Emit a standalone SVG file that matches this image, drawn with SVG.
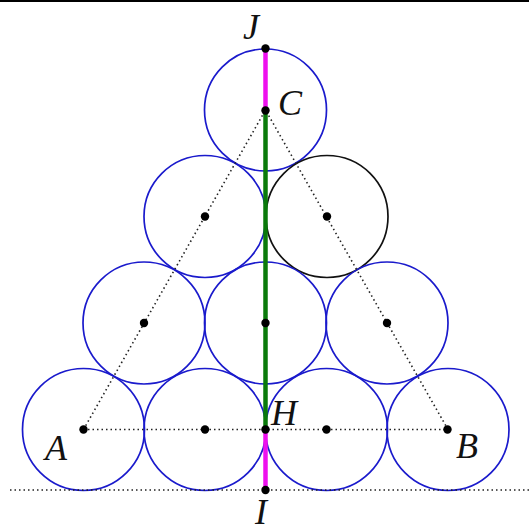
<svg xmlns="http://www.w3.org/2000/svg" width="529" height="532" viewBox="0 0 529 532">
<style>
.c{fill:none;stroke:#1a1acc;stroke-width:1.7}
.k{fill:none;stroke:#111;stroke-width:1.7}
.d{fill:none;stroke:#222;stroke-width:1.6;stroke-dasharray:1.5 3}
.p{fill:#000}
.t{font-family:"Liberation Serif","DejaVu Serif",serif;font-style:italic;font-size:36px;fill:#111}
</style>
<rect width="529" height="532" fill="#fff"/>
<line x1="0" y1="1" x2="529" y2="1" stroke="#000" stroke-width="2"/>
<g id="circles">
<circle class="c" cx="265.5" cy="110" r="61"/>
<circle class="c" cx="205" cy="216.5" r="61"/>
<circle class="k" cx="327" cy="216.5" r="61"/>
<circle class="c" cx="144" cy="323" r="61"/>
<circle class="c" cx="265.5" cy="323" r="61"/>
<circle class="c" cx="387" cy="323" r="61"/>
<circle class="c" cx="83.5" cy="429.5" r="61"/>
<circle class="c" cx="205" cy="429.5" r="61"/>
<circle class="c" cx="326.5" cy="429.5" r="61"/>
<circle class="c" cx="448" cy="429.5" r="61"/>
</g>
<g id="connectors">
<line class="d" x1="10" y1="490" x2="529" y2="490"/>
<line class="d" x1="83.5" y1="429.5" x2="448" y2="429.5"/>
<line class="d" x1="83.5" y1="429.5" x2="265.5" y2="110"/>
<line class="d" x1="448" y1="429.5" x2="265.5" y2="110"/>
<line x1="265.5" y1="48.5" x2="265.5" y2="110" stroke="#ee10ee" stroke-width="4.5"/>
<line x1="265.5" y1="429.5" x2="265.5" y2="490" stroke="#ee10ee" stroke-width="4.5"/>
<line x1="265.5" y1="110" x2="265.5" y2="429.5" stroke="#0a7a0a" stroke-width="4.5"/>
</g>
<g id="points">
<circle class="p" cx="265.5" cy="48.5" r="4.2"/>
<circle class="p" cx="265.5" cy="110.5" r="4.2"/>
<circle class="p" cx="205" cy="216.5" r="4.2"/>
<circle class="p" cx="327" cy="216.5" r="4.2"/>
<circle class="p" cx="144" cy="323" r="4.2"/>
<circle class="p" cx="265.5" cy="323" r="4.2"/>
<circle class="p" cx="387" cy="323" r="4.2"/>
<circle class="p" cx="83.5" cy="429.5" r="4.2"/>
<circle class="p" cx="205" cy="429.5" r="4.2"/>
<circle class="p" cx="265.5" cy="429.5" r="4.2"/>
<circle class="p" cx="326.5" cy="429.5" r="4.2"/>
<circle class="p" cx="447.5" cy="429.5" r="4.2"/>
<circle class="p" cx="265.5" cy="490" r="4.2"/>
</g>
<g id="labels">
<text class="t" x="243" y="39">J</text>
<text class="t" x="278" y="115">C</text>
<text class="t" x="271" y="425">H</text>
<text class="t" x="45" y="460">A</text>
<text class="t" x="456" y="458">B</text>
<text class="t" x="255" y="524">I</text>
</g>
</svg>
